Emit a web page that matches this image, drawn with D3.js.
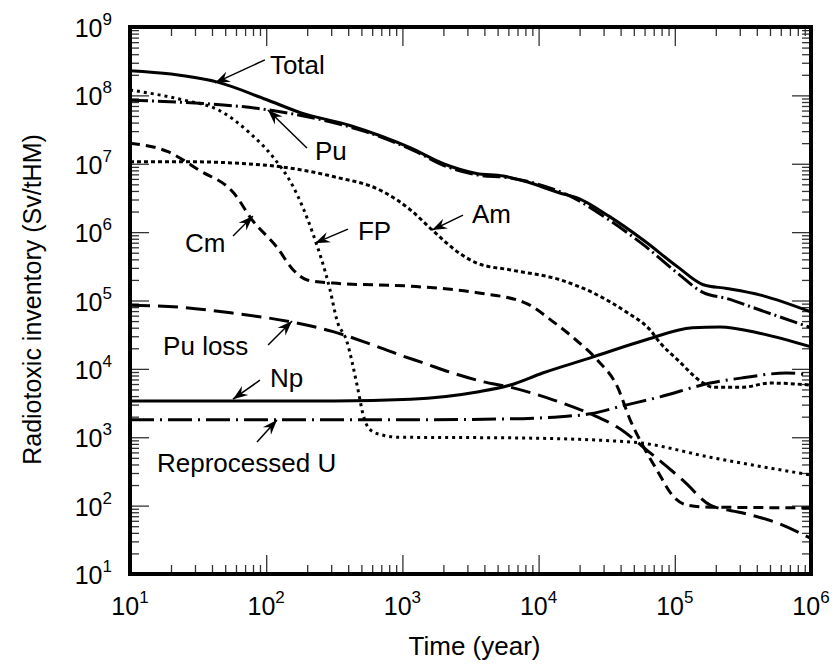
<!DOCTYPE html>
<html>
<head>
<meta charset="utf-8">
<script src="https://cdn.jsdelivr.net/npm/d3@7"></script>
<style>
  body { margin: 0; background: #fff; }
  svg { display: block; font-family: 'Liberation Sans', Arial, sans-serif; }
</style>
</head>
<body>
<svg id="chart"></svg>
<script>
// values: [time (year), radiotoxic inventory (Sv/tHM)]
const totalData = [[10,2.3e8],[20,2.05e8],[44,1.56e8],[100,8.7e7],[178,5.6e7],[417,3.6e7],[1150,1.7e7],[2000,1.0e7],
  [3500,7.2e6],[5500,6.6e6],[8300,5.4e6],[14500,3.7e6],[19000,3.2e6],[33000,1.7e6],[59000,7.6e5],
  [105000,3.1e5],[162000,1.7e5],[240000,1.5e5],[427000,1.2e5],[1e6,6.8e4]];
const puData = [[10,8.5e7],[25,7.9e7],[100,6.2e7],[310,4.0e7],[550,2.9e7],[1260,1.5e7],[2000,9.5e6],
  [3500,6.9e6],[6200,6.2e6],[19000,3.0e6],[33000,1.5e6],[59000,6.5e5],[105000,2.5e5],[162000,1.3e5],
  [240000,1.07e5],[427000,7.2e4],[1e6,4.0e4]];
const fpData = [[10,1.2e8],[25,8.5e7],[44,6.2e7],[76,2.8e7],[112,1.26e7],[158,4.6e6],[219,9.8e5],
  [295,1.4e5],[331,5.1e4],[389,2.6e4],[468,5.4e3],[513,2.2e3],[575,1.3e3],[724,1.07e3],[955,1.0e3],
  [6200,980],[33000,890],[55000,830],[182000,510],[1e6,280]];
const amData = [[10,1.07e7],[25,1.07e7],[100,9.5e6],[310,6.5e6],[724,3.9e6],[1150,2.1e6],[1660,1.07e6],
  [2630,4.9e5],[3550,3.5e5],[6200,2.8e5],[14500,2.0e5],[25000,1.3e5],[45000,6.6e4],[66000,3.7e4],
  [78000,2.4e4],[105000,1.35e4],[162000,6.2e3],[190000,5.4e3],[316000,5.4e3],[500000,6.2e3],[1e6,5.8e3]];
const cmData = [[10,2.0e7],[19,1.5e7],[32,8.1e6],[58,3.7e6],[79,1.5e6],[120,6.0e5],[158,2.8e5],
  [200,2.0e5],[310,1.8e5],[1260,1.6e5],[3550,1.3e5],[8100,9.1e4],[12600,5.0e4],[19000,2.6e4],
  [27000,1.35e4],[38000,5.4e3],[47000,1.8e3],[59000,720],[74000,330],[98000,135],[123000,102],
  [182000,95],[1e6,93]];
const puLossData = [[10,8.5e4],[25,7.9e4],[58,6.5e4],[158,4.8e4],[310,3.5e4],[550,2.4e4],[955,1.6e4],
  [1410,1.23e4],[2340,8.7e3],[3900,6.5e3],[6200,5.4e3],[12900,3.5e3],[24000,2.2e3],[38000,1.4e3],
  [66000,590],[115000,234],[182000,102],[316000,78],[562000,56],[1e6,33]];
const npData = [[10,3.4e3],[316,3.4e3],[1150,3.6e3],[3550,4.6e3],[6200,5.8e3],[10700,8.7e3],
  [24000,1.45e4],[59000,2.6e4],[135000,4.0e4],[214000,4.1e4],[427000,3.3e4],[1e6,2.1e4]];
const ruData = [[10,1.8e3],[1000,1.8e3],[6200,1.86e3],[14500,2.0e3],[24000,2.2e3],[42000,2.9e3],
  [78000,3.9e3],[182000,6.2e3],[316000,7.4e3],[660000,8.7e3],[1e6,8.1e3]];

const xTicks = [1e1, 1e2, 1e3, 1e4, 1e5, 1e6];
const yTicks = [1e1, 1e2, 1e3, 1e4, 1e5, 1e6, 1e7, 1e8, 1e9];

const series = [
  {data: totalData, dash: null},
  {data: puData, dash: '18,4,2,4'},
  {data: fpData, dash: '3,4'},
  {data: amData, dash: '4,3'},
  {data: cmData, dash: '10,6'},
  {data: puLossData, dash: '20,8'},
  {data: npData, dash: null},
  {data: ruData, dash: '24,6,2,6'}
];

// label, arrow tip on the curve (data space), tail and text offsets (px)
const notes = [
  {text: 'Total', tip: [42, 1.52e8], tail: [50, -23], at: [55, -9]},
  {text: 'Pu', tip: [103, 6.1e7], tail: [39, 38], at: [47, 50]},
  {text: 'Am', tip: [1650, 1.07e6], tail: [31, -15], at: [40, -7]},
  {text: 'FP', tip: [228, 6.9e5], tail: [33, -14], at: [43, -3]},
  {text: 'Cm', tip: [80, 1.72e6], tail: [-20, 20], at: [-68, 36]},
  {text: 'Pu loss', tip: [155, 5.0e4], tail: [-24, 24], at: [-129, 34]},
  {text: 'Np', tip: [57, 3.6e3], tail: [27, -19], at: [37, -12]},
  {text: 'Reprocessed U', tip: [120, 1.79e3], tail: [-20, 22], at: [-120, 52]}
];

const width = 833, height = 666;
const margin = {top: 27, right: 22, bottom: 92, left: 130};

const svg = d3.select('#chart').attr('width', width).attr('height', height);

const x = d3.scaleLog().domain([10, 1e6]).range([margin.left, width - margin.right]);
const y = d3.scaleLog().domain([10, 1e9]).range([height - margin.bottom, margin.top]);

svg.append('clipPath').attr('id', 'clip')
  .append('rect')
  .attr('x', margin.left).attr('y', margin.top)
  .attr('width', x.range()[1] - margin.left)
  .attr('height', y.range()[0] - margin.top);

// minor ticks 2..9 per decade
const minorX = [], minorY = [];
for (let e = 1; e < 6; e++) for (let m = 2; m < 10; m++) minorX.push(m * Math.pow(10, e));
for (let e = 1; e < 9; e++) for (let m = 2; m < 10; m++) minorY.push(m * Math.pow(10, e));

function styleTicks(g) {
  g.select('.domain').remove();
  g.selectAll('.tick line').attr('stroke', '#333').attr('stroke-width', 1.3);
  g.selectAll('.tick text').remove();
}

const bottomY = y.range()[0], topY = margin.top;
const leftX = margin.left, rightX = x.range()[1];

[[minorX, 9], [xTicks, 19]].forEach(([vals, len]) => {
  svg.append('g').attr('transform', `translate(0,${bottomY})`)
    .call(d3.axisBottom(x).tickValues(vals).tickSize(-len)).call(styleTicks);
  svg.append('g').attr('transform', `translate(0,${topY})`)
    .call(d3.axisTop(x).tickValues(vals).tickSize(-len)).call(styleTicks);
});
[[minorY, 9], [yTicks, 19]].forEach(([vals, len]) => {
  svg.append('g').attr('transform', `translate(${leftX},0)`)
    .call(d3.axisLeft(y).tickValues(vals).tickSize(-len)).call(styleTicks);
  svg.append('g').attr('transform', `translate(${rightX},0)`)
    .call(d3.axisRight(y).tickValues(vals).tickSize(-len)).call(styleTicks);
});

// curves
const line = d3.line()
  .x(d => x(d[0]))
  .y(d => y(d[1]))
  .curve(d3.curveMonotoneX);

const curves = svg.append('g').attr('clip-path', 'url(#clip)');
series.forEach(s => {
  curves.append('path')
    .datum(s.data)
    .attr('fill', 'none')
    .attr('stroke', '#000')
    .attr('stroke-width', 3)
    .attr('stroke-dasharray', s.dash)
    .attr('d', line);
});

// frame
svg.append('rect')
  .attr('x', leftX).attr('y', topY)
  .attr('width', rightX - leftX).attr('height', bottomY - topY)
  .attr('fill', 'none').attr('stroke', '#000').attr('stroke-width', 4);

// tick labels 10^n
const exp = v => Math.round(Math.log10(v));
xTicks.forEach(v => {
  const t = svg.append('text')
    .attr('x', x(v)).attr('y', bottomY + 41)
    .attr('text-anchor', 'middle')
    .attr('font-size', 25);
  t.append('tspan').text('10');
  t.append('tspan').attr('dy', -12).attr('font-size', 17).text(exp(v));
});
yTicks.forEach(v => {
  const t = svg.append('text')
    .attr('x', leftX - 18).attr('y', y(v) + 10)
    .attr('text-anchor', 'end')
    .attr('font-size', 25);
  t.append('tspan').text('10');
  t.append('tspan').attr('dy', -12).attr('font-size', 17).text(exp(v));
});

// axis titles
svg.append('text')
  .attr('x', (leftX + rightX) / 2 + 4).attr('y', 655)
  .attr('text-anchor', 'middle').attr('font-size', 26)
  .text('Time (year)');
svg.append('text')
  .attr('transform', `translate(41,${(topY + bottomY) / 2 - 1}) rotate(-90)`)
  .attr('text-anchor', 'middle').attr('font-size', 25)
  .text('Radiotoxic inventory (Sv/tHM)');

// annotations with arrows
const ann = svg.append('g');
notes.forEach(n => {
  const tx = x(n.tip[0]), ty = y(n.tip[1]);
  const sx = tx + n.tail[0], sy = ty + n.tail[1];
  const ang = Math.atan2(ty - sy, tx - sx) * 180 / Math.PI;
  ann.append('line')
    .attr('x1', sx).attr('y1', sy).attr('x2', tx).attr('y2', ty)
    .attr('stroke', '#000').attr('stroke-width', 1.5);
  ann.append('path')
    .attr('d', 'M0,0 L-15,-5.5 L-10,0 L-15,5.5 Z')
    .attr('transform', `translate(${tx},${ty}) rotate(${ang})`)
    .attr('fill', '#000');
  ann.append('text')
    .attr('x', tx + n.at[0]).attr('y', ty + n.at[1])
    .attr('font-size', 26)
    .text(n.text);
});
</script>
</body>
</html>
